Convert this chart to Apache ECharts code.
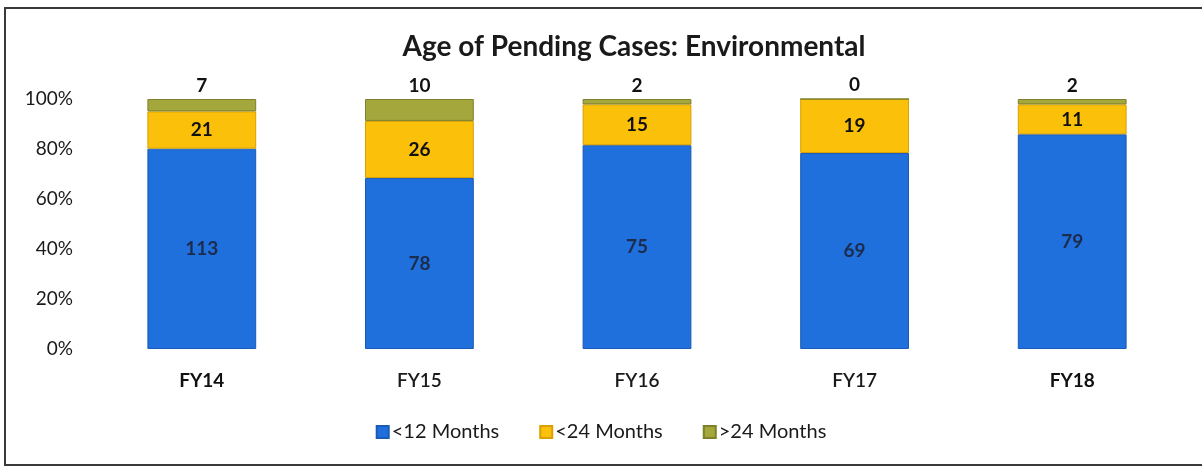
<!DOCTYPE html>
<html>
<head>
<meta charset="utf-8">
<script src="https://cdn.jsdelivr.net/npm/echarts@6/dist/echarts.min.js"></script>
<style>
  html, body { margin: 0; padding: 0; background: #fff; }
  #chart { width: 1202px; height: 467px; }
</style>
</head>
<body>
<div id="chart"></div>
<script>
// categories and counts
const years = ['FY14', 'FY15', 'FY16', 'FY17', 'FY18'];
const under12 = [113, 78, 75, 69, 79];
const under24 = [21, 26, 15, 19, 11];
const over24 = [7, 10, 2, 0, 2];
const yTicks = ['0%', '20%', '40%', '60%', '80%', '100%'];

const FONT = 'Lato, "Open Sans", sans-serif';

// each bar is a share of the year's total
const totals = years.map((_, i) => under12[i] + under24[i] + over24[i]);
const share = (arr) => arr.map((v, i) => ({value: v / totals[i] * 100, raw: v}));

const labelBase = {
  show: true,
  fontFamily: FONT,
  fontWeight: 'bold',
  fontSize: 19,
  formatter: (p) => String(p.data.raw)
};

function makeSeries(name, arr, color, border, label) {
  return {
    name: name,
    type: 'bar',
    stack: 'age',
    barWidth: '50%',
    data: share(arr),
    itemStyle: {color: color, borderColor: border, borderWidth: 1},
    label: Object.assign({}, labelBase, label)
  };
}

const chart = echarts.init(document.getElementById('chart'));
chart.setOption({
  animation: false,
  title: {
    text: 'Age of Pending Cases: Environmental',
    left: 629,
    textAlign: 'center',
    top: 28,
    textStyle: {fontFamily: FONT, fontWeight: 'bold', fontSize: 28, color: '#1a1a1a'}
  },
  legend: {
    bottom: 20,
    left: 'center',
    icon: 'rect',
    itemWidth: 12,
    itemHeight: 12,
    itemGap: 40,
    textStyle: {fontFamily: FONT, fontSize: 20, color: '#1a1a1a', padding: [0, 0, 0, -2]},
    data: ['<12 Months', '<24 Months', '>24 Months']
  },
  grid: {left: 93, right: 21, top: 99, bottom: 118},
  xAxis: {
    type: 'category',
    data: years,
    axisLine: {show: false},
    axisTick: {show: false},
    axisLabel: {
      margin: 22,
      fontFamily: FONT,
      fontSize: 19,
      color: '#1a1a1a',
      formatter: (v) => (v === 'FY14' || v === 'FY18') ? '{b|' + v + '}' : '{n|' + v + '}',
      rich: {
        b: {fontFamily: FONT, fontSize: 19, fontWeight: 'bold', color: '#111'},
        n: {fontFamily: FONT, fontSize: 19, fontWeight: 600, color: '#1a1a1a'}
      }
    }
  },
  yAxis: {
    type: 'value',
    min: 0,
    max: 100,
    interval: 20,
    axisLine: {show: false},
    axisTick: {show: false},
    splitLine: {show: false},
    axisLabel: {
      margin: 20,
      fontFamily: FONT,
      fontSize: 19,
      color: '#1a1a1a',
      formatter: (v) => yTicks[Math.round(v / 20)]
    }
  },
  series: [
    makeSeries('<12 Months', under12, '#1f6fdc', '#1a5bb5', {position: 'inside', color: '#1c2c4c'}),
    makeSeries('<24 Months', under24, '#fbc00a', '#d9a000', {position: 'inside', color: '#111'}),
    makeSeries('>24 Months', over24, '#a3a73c', '#7d812a', {position: 'top', distance: 4, color: '#111'})
  ],
  graphic: [{
    type: 'rect',
    shape: {x: 5, y: 8, width: 1220, height: 457},
    style: {fill: 'none', stroke: '#3a3a3a', lineWidth: 2}
  }]
});
</script>
</body>
</html>
